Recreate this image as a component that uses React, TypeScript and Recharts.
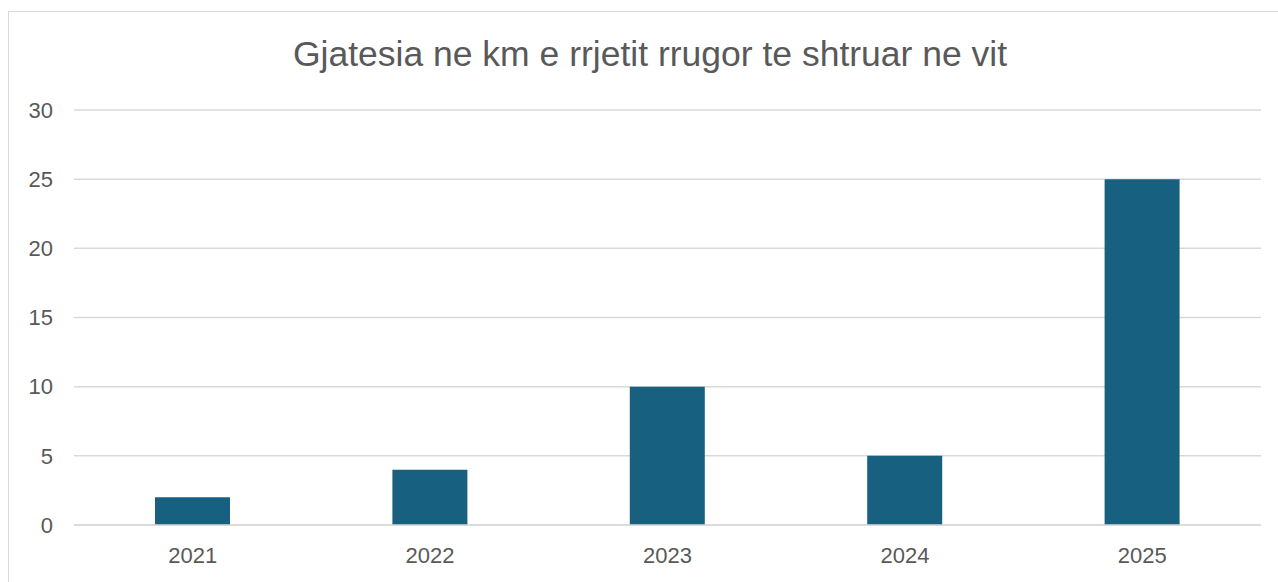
import { BarChart, Bar, XAxis, YAxis, CartesianGrid } from "recharts";

const years = ["2021", "2022", "2023", "2024", "2025"];
const lengthKm = [2, 4, 10, 5, 25];
const yTicks = [0, 5, 10, 15, 20, 25, 30];

const data = years.map((year, i) => ({ year, km: lengthKm[i] }));

const textColor = "#595959";
const gridColor = "#d9d9d9";
const font = "'Liberation Sans', Arial, sans-serif";

export default function App() {
  return (
    <div
      style={{
        position: "absolute",
        left: 8,
        top: 11,
        width: 1270,
        height: 571,
        boxSizing: "border-box",
        borderLeft: `1px solid ${gridColor}`,
        borderTop: `1px solid ${gridColor}`,
        background: "#fff",
        overflow: "hidden",
        fontFamily: font,
      }}
    >
      <div
        style={{
          position: "absolute",
          left: 41,
          top: 25,
          width: 1200,
          textAlign: "center",
          fontSize: 35.5,
          lineHeight: "35px",
          color: textColor,
        }}
      >
        Gjatesia ne km e rrjetit rrugor te shtruar ne vit
      </div>
      <BarChart
        width={1269}
        height={570}
        data={data}
        margin={{ top: 98, right: 17, bottom: 0, left: 0 }}
      >
        <CartesianGrid vertical={false} stroke={gridColor} strokeWidth={1.5} />
        <XAxis
          dataKey="year"
          height={57}
          axisLine={{ stroke: gridColor, strokeWidth: 1.5 }}
          tickLine={false}
          tickMargin={16}
          tick={{ fill: textColor, fontSize: 22, fontFamily: font }}
        />
        <YAxis
          width={65}
          domain={[0, 30]}
          ticks={yTicks}
          axisLine={false}
          tickLine={false}
          tickMargin={15}
          tick={{ fill: textColor, fontSize: 22, fontFamily: font }}
        />
        <Bar dataKey="km" fill="#17607f" barSize={75} isAnimationActive={false} />
      </BarChart>
    </div>
  );
}
